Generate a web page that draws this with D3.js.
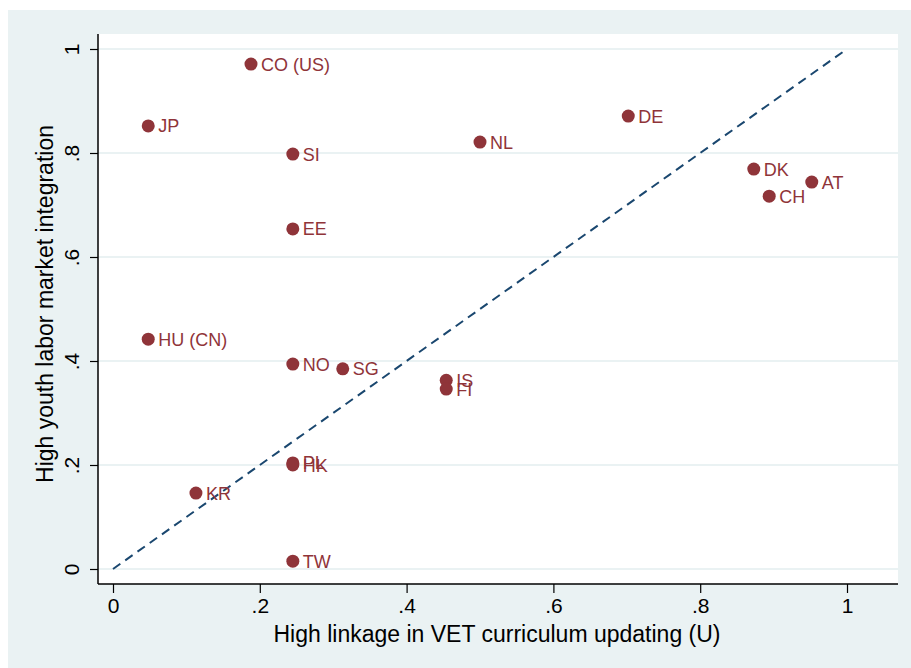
<!DOCTYPE html>
<html>
<head>
<meta charset="utf-8">
<script src="https://cdn.jsdelivr.net/npm/d3@7"></script>
<style>
  body { margin: 0; background: #ffffff; }
  text { font-family: "Liberation Sans", Arial, sans-serif; }
</style>
</head>
<body>
<div id="chart"></div>
<script>
// Scatter - curriculum updating linkage vs. youth labor market integration

// country codes
var countries = ["CO (US)", "JP", "SI", "EE", "HU (CN)", "NO", "SG", "IS", "FI",
                 "PL", "HK", "KR", "TW", "NL", "DE", "DK", "CH", "AT"];
// x: High linkage in VET curriculum updating (U)
var linkage = [0.188, 0.048, 0.245, 0.245, 0.048, 0.245, 0.313, 0.454, 0.454,
               0.245, 0.245, 0.113, 0.245, 0.5, 0.702, 0.873, 0.894, 0.952];
// y: High youth labor market integration
var integration = [0.971, 0.852, 0.798, 0.654, 0.442, 0.394, 0.385, 0.363, 0.346,
                   0.204, 0.2, 0.146, 0.015, 0.821, 0.871, 0.769, 0.717, 0.744];

var xTicks = [0, 0.2, 0.4, 0.6, 0.8, 1];
var yTicks = [0, 0.2, 0.4, 0.6, 0.8, 1];
var diagonal = [0, 1];

var width = 911, height = 668;
var bg = "#eaf2f3";
var dotColor = "#8f3439";

var svg = d3.select("#chart").append("svg")
    .attr("width", width)
    .attr("height", height);

// graph region
svg.append("rect")
    .attr("x", 8).attr("y", 10)
    .attr("width", width - 8).attr("height", height - 10)
    .attr("fill", bg);

// plot region
var plot = {left: 98, top: 34, right: 898, bottom: 584};
svg.append("rect")
    .attr("x", plot.left).attr("y", plot.top)
    .attr("width", plot.right - plot.left)
    .attr("height", plot.bottom - plot.top)
    .attr("fill", "#ffffff");

// scales
var x = d3.scaleLinear().domain([0, 1]).range([113, 847]);
var y = d3.scaleLinear().domain([0, 1]).range([569, 49]);

var fmt = function(d) {
    if (d === 0) return "0";
    if (d === 1) return "1";
    return d3.format(".1f")(d).replace(/^0/, "");
};

// gridlines
svg.selectAll(".grid")
    .data(yTicks)
    .enter().append("line")
    .attr("class", "grid")
    .attr("x1", plot.left).attr("x2", plot.right)
    .attr("y1", function(d) { return y(d); })
    .attr("y2", function(d) { return y(d); })
    .attr("stroke", bg)
    .attr("stroke-width", 2);

// y axis
var yAxis = d3.axisLeft(y)
    .tickValues(yTicks)
    .tickFormat(fmt)
    .tickSize(8)
    .tickPadding(8);

var gy = svg.append("g")
    .attr("transform", "translate(" + plot.left + ",0)")
    .call(yAxis);
gy.select(".domain").attr("d", "M0," + plot.top + "V" + plot.bottom)
    .attr("stroke", "#000").attr("stroke-width", 1.5);
gy.selectAll(".tick line").attr("stroke", "#000").attr("stroke-width", 1.2);
gy.selectAll(".tick text")
    .attr("font-size", 21)
    .attr("fill", "#000")
    .attr("transform", "rotate(-90)")
    .attr("x", 0)
    .attr("y", -19)
    .attr("dy", "0")
    .attr("text-anchor", "middle");

// x axis
var xAxis = d3.axisBottom(x)
    .tickValues(xTicks)
    .tickFormat(fmt)
    .tickSize(9)
    .tickPadding(5);

var gx = svg.append("g")
    .attr("transform", "translate(0," + plot.bottom + ")")
    .call(xAxis);
gx.select(".domain").attr("d", "M" + plot.left + ",0H" + plot.right)
    .attr("stroke", "#000").attr("stroke-width", 1.5);
gx.selectAll(".tick line").attr("stroke", "#000").attr("stroke-width", 1.2);
gx.selectAll(".tick text")
    .attr("font-size", 21)
    .attr("fill", "#000");

// axis titles
svg.append("text")
    .attr("x", 497).attr("y", 642)
    .attr("text-anchor", "middle")
    .attr("font-size", 23)
    .attr("fill", "#000")
    .text("High linkage in VET curriculum updating (U)");

svg.append("text")
    .attr("transform", "translate(53,304) rotate(-90)")
    .attr("text-anchor", "middle")
    .attr("font-size", 23)
    .attr("fill", "#000")
    .text("High youth labor market integration");

// 45 degree reference line
svg.append("line")
    .attr("x1", x(diagonal[0])).attr("y1", y(diagonal[0]))
    .attr("x2", x(diagonal[1])).attr("y2", y(diagonal[1]))
    .attr("stroke", "#1a476f")
    .attr("stroke-width", 2)
    .attr("stroke-dasharray", "9,6");

// points
var pts = countries.map(function(c, i) {
    return {name: c, u: linkage[i], v: integration[i]};
});

svg.selectAll(".dot")
    .data(pts)
    .enter().append("circle")
    .attr("class", "dot")
    .attr("cx", function(d) { return x(d.u); })
    .attr("cy", function(d) { return y(d.v); })
    .attr("r", 6.5)
    .attr("fill", dotColor);

svg.selectAll(".lbl")
    .data(pts)
    .enter().append("text")
    .attr("class", "lbl")
    .attr("x", function(d) { return x(d.u) + 10; })
    .attr("y", function(d) { return y(d.v) + 6.5; })
    .attr("font-size", 18)
    .attr("fill", dotColor)
    .text(function(d) { return d.name; });
</script>
</body>
</html>
